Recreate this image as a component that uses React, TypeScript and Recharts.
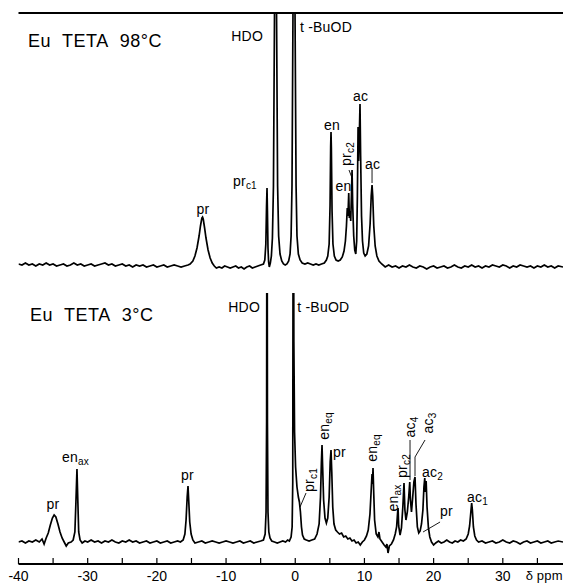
import React from 'react';
import { LineChart, Line, XAxis, YAxis, ReferenceLine, ReferenceDot } from 'recharts';

// chemical shift axis (ppm)
const shiftDomain: [number, number] = [-40, 38.7];
const shiftTicks = [-40, -35, -30, -25, -20, -15, -10, -5, 0, 5, 10, 15, 20, 25, 30, 35];
const shiftLabels = [-40, -30, -20, -10, 0, 10, 20, 30];

// Eu TETA at 98 °C : [ppm, intensity]
const hotSpectrum: [number, number][] = [
  [-40, 2], [-39.5, 1], [-39, 3], [-38.5, 1], [-38, 2], [-37.5, 0], [-37, 2], [-36.5, 1], [-36, 3], [-35.5, 1],
  [-35, 2], [-34.5, 0], [-34, 1], [-33.5, 2], [-33, 0], [-32.5, 1], [-32, 3], [-31.5, 1], [-31, 2], [-30.5, 0],
  [-30, 1], [-29.5, 2], [-29, 0], [-28.5, 1], [-28, 2], [-27.5, 3], [-27, 1], [-26.5, 2], [-26, 0], [-25.5, 1],
  [-25, 2], [-24.5, 0], [-24, 1], [-23.5, -1], [-23, 1], [-22.5, 0], [-22, 1], [-21.5, -1], [-21, 0], [-20.5, 1],
  [-20, -1], [-19.5, 0], [-19, 1], [-18.5, -1], [-18, 0], [-17.5, 1], [-17, 0], [-16.5, -1], [-16, 0], [-15.5, 1],
  [-15.2, 2], [-14.8, 5], [-14.5, 10], [-14.2, 18], [-13.9, 30], [-13.7, 40], [-13.5, 48], [-13.4, 49], [-13.3, 47],
  [-13.1, 38], [-12.9, 28], [-12.6, 16], [-12.3, 8], [-12, 3], [-11.7, 0],
  [-11.4, -2], [-11, -1], [-10.6, -2], [-10.2, 0], [-9.8, -1], [-9.4, -2], [-9, -1], [-8.6, 0], [-8.2, -2], [-7.8, -1],
  [-7.4, -3], [-7, -1], [-6.6, 0], [-6.2, -2], [-5.8, -1], [-5.4, 0], [-5, 1], [-4.6, 2],
  [-4.4, 6], [-4.25, 22], [-4.15, 60], [-4.08, 78], [-4.02, 55], [-3.94, 18], [-3.85, 4], [-3.75, -1],
  [-3.6, 3], [-3.45, 10], [-3.3, 28], [-3.15, 80], [-3.0, 250], [-2.85, 600], [-2.7, 250], [-2.55, 80], [-2.4, 30],
  [-2.2, 12], [-1.95, 5], [-1.7, 2], [-1.45, 1],
  [-1.2, 2], [-0.95, 5], [-0.75, 12], [-0.6, 30], [-0.47, 80], [-0.33, 250], [-0.18, 600], [-0.03, 250], [0.12, 80],
  [0.25, 30], [0.45, 12], [0.7, 6], [1.0, 3], [1.4, 2], [1.8, 3], [2.2, 2], [2.6, 1], [3.0, 2], [3.4, 1], [3.8, 2],
  [4.2, 3], [4.5, 6],
  [4.7, 10], [4.9, 22], [5.03, 60], [5.12, 120], [5.17, 134], [5.22, 118], [5.32, 55], [5.45, 22], [5.65, 10],
  [5.9, 6], [6.2, 5], [6.5, 6], [6.8, 9], [7.05, 15],
  [7.25, 25], [7.4, 40], [7.52, 58], [7.62, 50], [7.73, 73], [7.82, 48], [7.92, 55], [8.02, 45], [8.12, 70],
  [8.21, 96], [8.3, 62], [8.45, 30], [8.6, 16], [8.75, 12],
  [8.88, 25], [8.98, 70], [9.08, 139], [9.16, 105], [9.26, 130], [9.36, 162], [9.45, 110], [9.58, 50], [9.72, 25],
  [9.9, 13], [10.1, 10], [10.35, 12], [10.6, 20], [10.82, 42], [10.98, 70], [11.1, 81], [11.2, 70], [11.35, 40],
  [11.55, 20], [11.8, 10], [12.1, 5], [12.5, 2],
  [13, -1], [13.5, 1], [14, -1], [14.5, 0], [15, -2], [15.5, 0], [16, -1], [16.5, 1], [17, -1], [17.5, -2],
  [18, 0], [18.5, -1], [19, -3], [19.5, -1], [20, 0], [20.5, -2], [21, -1], [21.5, 0], [22, -2], [22.5, -1],
  [23, 1], [23.5, -1], [24, -2], [24.5, 0], [25, -1], [25.5, 1], [26, -1], [26.5, 0], [27, -2], [27.5, 0],
  [28, -1], [28.5, 1], [29, 0], [29.5, -1], [30, 1], [30.5, 0], [31, -2], [31.5, 0], [32, -1], [32.5, 1],
  [33, 0], [33.5, -1], [34, 0], [34.5, -2], [35, 0], [35.5, -1], [36, 1], [36.5, -1], [37, 0], [37.5, -2],
  [38, 0], [38.7, -1],
];

// Eu TETA at 3 °C : [ppm, intensity]
const coldSpectrum: [number, number][] = [
  [-40, 0], [-39.5, 1], [-39, -1], [-38.5, 1], [-38, 0], [-37.5, 2], [-37, 0], [-36.6, 3], [-36.3, -2], [-36, 4],
  [-35.7, 9], [-35.4, 17], [-35.1, 24], [-34.85, 27], [-34.6, 25], [-34.3, 18], [-34, 10], [-33.7, 4], [-33.4, 0],
  [-33.1, -4], [-32.8, -1], [-32.4, 0], [-32.1, 2], [-31.85, 10], [-31.7, 40], [-31.55, 73], [-31.42, 40],
  [-31.3, 10], [-31.1, 2], [-30.8, -1], [-30.4, 1],
  [-30, 0], [-29.5, 2], [-29, 0], [-28.5, 1], [-28, -1], [-27.5, 1], [-27, 0], [-26.5, 2], [-26, 0], [-25.5, -1],
  [-25, 1], [-24.5, 0], [-24, 2], [-23.5, 0], [-23, 1], [-22.5, -1], [-22, 0], [-21.5, 1], [-21, -1], [-20.5, 0],
  [-20, 1], [-19.5, -1], [-19, 0], [-18.5, 1], [-18, -1], [-17.5, 0], [-17, 1], [-16.6, 0], [-16.2, 2],
  [-15.95, 8], [-15.78, 22], [-15.62, 45], [-15.5, 56], [-15.4, 42], [-15.25, 20], [-15.05, 8], [-14.8, 2], [-14.5, -1],
  [-14, 0], [-13.5, 1], [-13, -1], [-12.5, 0], [-12, 1], [-11.5, 0], [-11, -1], [-10.5, 0], [-10, 1], [-9.5, 0],
  [-9, -1], [-8.5, 0], [-8, 1], [-7.5, -1], [-7, 0], [-6.5, 1], [-6, -1], [-5.5, 0], [-5, 1], [-4.6, 2],
  [-4.35, 8], [-4.22, 30], [-4.14, 120], [-4.08, 500], [-4.02, 120], [-3.94, 30], [-3.82, 10], [-3.65, 4], [-3.4, 1],
  [-3, 0], [-2.6, -1], [-2.2, 0], [-1.8, 1], [-1.4, 0], [-1.1, 2], [-0.85, 1], [-0.6, 5], [-0.45, 15], [-0.36, 60],
  [-0.28, 500], [-0.2, 200], [-0.1, 110], [0.05, 75], [0.25, 55], [0.45, 45], [0.6, 40], [0.75, 30], [0.9, 15],
  [1.05, 7], [1.3, 3], [1.6, 2], [2, 1], [2.4, 2], [2.8, 3], [3.15, 8],
  [3.45, 18], [3.65, 45], [3.78, 80], [3.87, 97], [3.96, 75], [4.1, 42], [4.3, 24], [4.5, 19], [4.7, 24], [4.9, 45],
  [5.05, 80], [5.17, 92], [5.28, 70], [5.42, 35], [5.6, 18], [5.85, 12], [6.1, 10], [6.4, 8], [6.7, 9], [7.0, 5],
  [7.3, 6], [7.6, 3], [7.9, 4], [8.2, 1], [8.5, 2], [8.8, -1], [9.1, 0], [9.4, -3], [9.7, 0], [10.0, 2], [10.3, 6],
  [10.55, 12], [10.8, 28], [11.0, 55], [11.1, 68], [11.17, 58], [11.24, 74], [11.33, 52], [11.47, 22], [11.7, 8],
  [11.95, 5], [12.1, 10], [12.25, 3], [12.55, 0], [12.85, -3], [13.1, -5], [13.25, -2], [13.41, -11], [13.6, -4],
  [13.9, -2], [14.2, 2], [14.45, 8],
  [14.65, 15], [14.8, 30], [14.86, 34], [14.95, 16], [15.15, 7], [15.35, 14], [15.55, 35], [15.72, 59], [15.85, 32],
  [16.0, 22], [16.2, 30], [16.4, 45], [16.55, 60], [16.65, 42], [16.8, 30], [16.98, 45], [17.15, 60], [17.31, 65],
  [17.45, 38], [17.65, 15], [17.85, 9], [18.05, 11], [18.25, 18], [18.45, 32], [18.6, 55], [18.72, 64], [18.82, 50],
  [18.92, 61], [19.05, 35], [19.25, 14], [19.45, 5], [19.7, 0], [20.0, -3], [20.3, -1], [20.7, 1], [21.1, -1],
  [21.5, 0], [21.9, 2], [22.3, 0], [22.7, -1], [23.1, 1], [23.5, 0], [23.9, 2], [24.3, 1], [24.7, 3], [25.0, 8],
  [25.2, 16], [25.38, 30], [25.5, 39], [25.6, 32], [25.75, 15], [25.95, 6], [26.2, 2], [26.5, 0],
  [27, 1], [27.5, -1], [28, 0], [28.5, 1], [29, -1], [29.5, 0], [30, 2], [30.5, 0], [31, -1], [31.5, 1],
  [32, 0], [32.5, -2], [33, 0], [33.5, 1], [34, -1], [34.5, 0], [35, 1], [35.5, -1], [36, 0], [36.5, 1],
  [37, -1], [37.5, 0], [38, 1], [38.7, 0],
];

type Ann = {
  ppm: number;
  level: number;
  main: string;
  sub?: string;
  rotate?: boolean;
  anchor?: 'start' | 'middle' | 'end';
  kind?: 'title' | 'unit';
};

const NB = '\u00A0';

// annotations: [ppm, intensity] anchors
const hotLabels: Ann[] = [
  { ppm: -38.63, level: 225, main: `Eu${NB}${NB}TETA${NB}${NB}98°C`, anchor: 'start', kind: 'title' },
  { ppm: -4.66, level: 230, main: 'HDO', anchor: 'end' },
  { ppm: 0.69, level: 239, main: 't -BuOD', anchor: 'start' },
  { ppm: -13.33, level: 57, main: 'pr' },
  { ppm: -8.99, level: 85, main: 'pr', sub: 'c1', anchor: 'start' },
  { ppm: 5.32, level: 141, main: 'en' },
  { ppm: 6.98, level: 80, main: 'en' },
  { ppm: 7.34, level: 112, main: 'pr', sub: 'c2', rotate: true },
  { ppm: 9.44, level: 170, main: 'ac' },
  { ppm: 11.17, level: 102, main: 'ac' },
];

const coldLabels: Ann[] = [
  { ppm: -38.34, level: 227, main: `Eu${NB}${NB}TETA${NB}${NB}3°C`, anchor: 'start', kind: 'title' },
  { ppm: -5.09, level: 235, main: 'HDO', anchor: 'end' },
  { ppm: 0.3, level: 235, main: 't -BuOD', anchor: 'start' },
  { ppm: -35.01, level: 38, main: 'pr' },
  { ppm: -33.71, level: 85, main: 'en', sub: 'ax', anchor: 'start' },
  { ppm: -15.57, level: 67, main: 'pr' },
  { ppm: 1.99, level: 62, main: 'pr', sub: 'c1', rotate: true },
  { ppm: 4.16, level: 116, main: 'en', sub: 'eq', rotate: true },
  { ppm: 5.46, level: 90, main: 'pr', anchor: 'start' },
  { ppm: 11.1, level: 94, main: 'en', sub: 'eq', rotate: true },
  { ppm: 14.13, level: 44, main: 'en', sub: 'ax', rotate: true },
  { ppm: 15.43, level: 76, main: 'pr', sub: 'c2', rotate: true },
  { ppm: 16.59, level: 115, main: 'ac', sub: '4', rotate: true },
  { ppm: 19.19, level: 119, main: 'ac', sub: '3', rotate: true },
  { ppm: 18.32, level: 70, main: 'ac', sub: '2', anchor: 'start' },
  { ppm: 20.93, level: 31, main: 'pr', anchor: 'start' },
  { ppm: 24.83, level: 45, main: 'ac', sub: '1', anchor: 'start' },
  { ppm: 33.3, level: -33, main: `δ${NB}ppm`, anchor: 'start', kind: 'unit' },
];

// leader lines: polylines of [ppm, intensity]
const hotLeaders: [number, number][][] = [
  [[7.77, 96], [8.21, 88]],
  [[11.1, 97], [11.1, 83]],
];
const coldLeaders: [number, number][][] = [
  [[1.56, 49], [0.69, 35]],
  [[16.59, 102], [16.59, 62]],
  [[18.76, 102], [17.31, 85], [17.31, 66]],
  [[20.93, 20], [18.47, 10]],
];

const FONT = '"Liberation Sans", Arial, Helvetica, sans-serif';

const renderAnn = (a: Ann) => (p: any) => {
  const cx = p.cx;
  const cy = p.cy;
  const transform = a.rotate ? `rotate(-90 ${cx} ${cy})` : undefined;
  const size = a.kind === 'title' ? 18 : a.kind === 'unit' ? 13 : 14;
  return (
    <text
      x={cx}
      y={cy}
      textAnchor={a.anchor ?? 'middle'}
      dominantBaseline="central"
      fontSize={size}
      letterSpacing={a.kind === 'title' ? 0.5 : 0.2}
      fontFamily={FONT}
      fill="#000"
      transform={transform}
    >
      {a.main}
      {a.sub ? (
        <tspan fontSize={10} dy={4}>
          {a.sub}
        </tspan>
      ) : null}
    </text>
  );
};

const makeTick = (len: number, withLabels: boolean) => (props: any) => {
  const { x, y, payload } = props;
  const v = payload.value as number;
  return (
    <g>
      <line x1={x} y1={y} x2={x} y2={y - len} stroke="#000" strokeWidth={1.2} />
      {withLabels && shiftLabels.includes(v) ? (
        <text x={x} y={y + 12} textAnchor="middle" dominantBaseline="central" fontSize={14} fontFamily={FONT} fill="#000">
          {v}
        </text>
      ) : null}
    </g>
  );
};

const toRows = (s: [number, number][]) => s.map(([ppm, signal]) => ({ ppm, signal }));

const renderLeaders = (leaders: [number, number][][], prefix: string) =>
  leaders.flatMap((pl, i) =>
    pl.slice(1).map((pt, j) => (
      <ReferenceLine
        key={`${prefix}-${i}-${j}`}
        segment={[
          { x: pl[j][0], y: pl[j][1] },
          { x: pt[0], y: pt[1] },
        ]}
        stroke="#000"
        strokeWidth={0.9}
        ifOverflow="visible"
      />
    ))
  );

const renderLabels = (labels: Ann[], prefix: string) =>
  labels.map((a, i) => (
    <ReferenceDot
      key={`${prefix}-${i}`}
      x={a.ppm}
      y={a.level}
      r={0}
      ifOverflow="visible"
      shape={renderAnn(a)}
    />
  ));

export default function App() {
  const hotTop = 253;
  return (
    <div style={{ position: 'absolute', left: 0, top: 0, width: 563, height: 583, background: '#fff', overflow: 'hidden' }}>
      <LineChart width={563} height={293} data={toRows(hotSpectrum)} margin={{ top: 13, right: 0, left: 18.5, bottom: 0 }}>
        <XAxis
          dataKey="ppm"
          type="number"
          domain={shiftDomain}
          ticks={shiftTicks}
          interval={0}
          allowDataOverflow
          height={0}
          tickSize={0}
          tickMargin={0}
          tickLine={false}
          tick={makeTick(7, false)}
          axisLine={{ stroke: '#000', strokeWidth: 2 }}
        />
        <YAxis
          type="number"
          domain={[-27, hotTop]}
          allowDataOverflow
          width={0}
          tick={false}
          tickLine={false}
          axisLine={{ stroke: '#000', strokeWidth: 1.5 }}
        />
        <ReferenceLine y={hotTop} stroke="#000" strokeWidth={1.8} ifOverflow="visible" />
        <Line dataKey="signal" type="linear" stroke="#000" strokeWidth={1.7} dot={false} isAnimationActive={false} />
        {renderLeaders(hotLeaders, 'hl')}
        {renderLabels(hotLabels, 'ha')}
      </LineChart>
      <LineChart width={563} height={290} data={toRows(coldSpectrum)} margin={{ top: 0, right: 0, left: 18.5, bottom: 0 }}>
        <XAxis
          dataKey="ppm"
          type="number"
          domain={shiftDomain}
          ticks={shiftTicks}
          interval={0}
          allowDataOverflow
          height={19}
          tickSize={0}
          tickMargin={0}
          tickLine={false}
          tick={makeTick(6, true)}
          axisLine={{ stroke: '#000', strokeWidth: 2 }}
        />
        <YAxis
          type="number"
          domain={[-22, 249]}
          allowDataOverflow
          width={0}
          tick={false}
          tickLine={false}
          axisLine={{ stroke: '#000', strokeWidth: 1.5 }}
        />
        <Line dataKey="signal" type="linear" stroke="#000" strokeWidth={1.7} dot={false} isAnimationActive={false} />
        {renderLeaders(coldLeaders, 'cl')}
        {renderLabels(coldLabels, 'ca')}
      </LineChart>
    </div>
  );
}
